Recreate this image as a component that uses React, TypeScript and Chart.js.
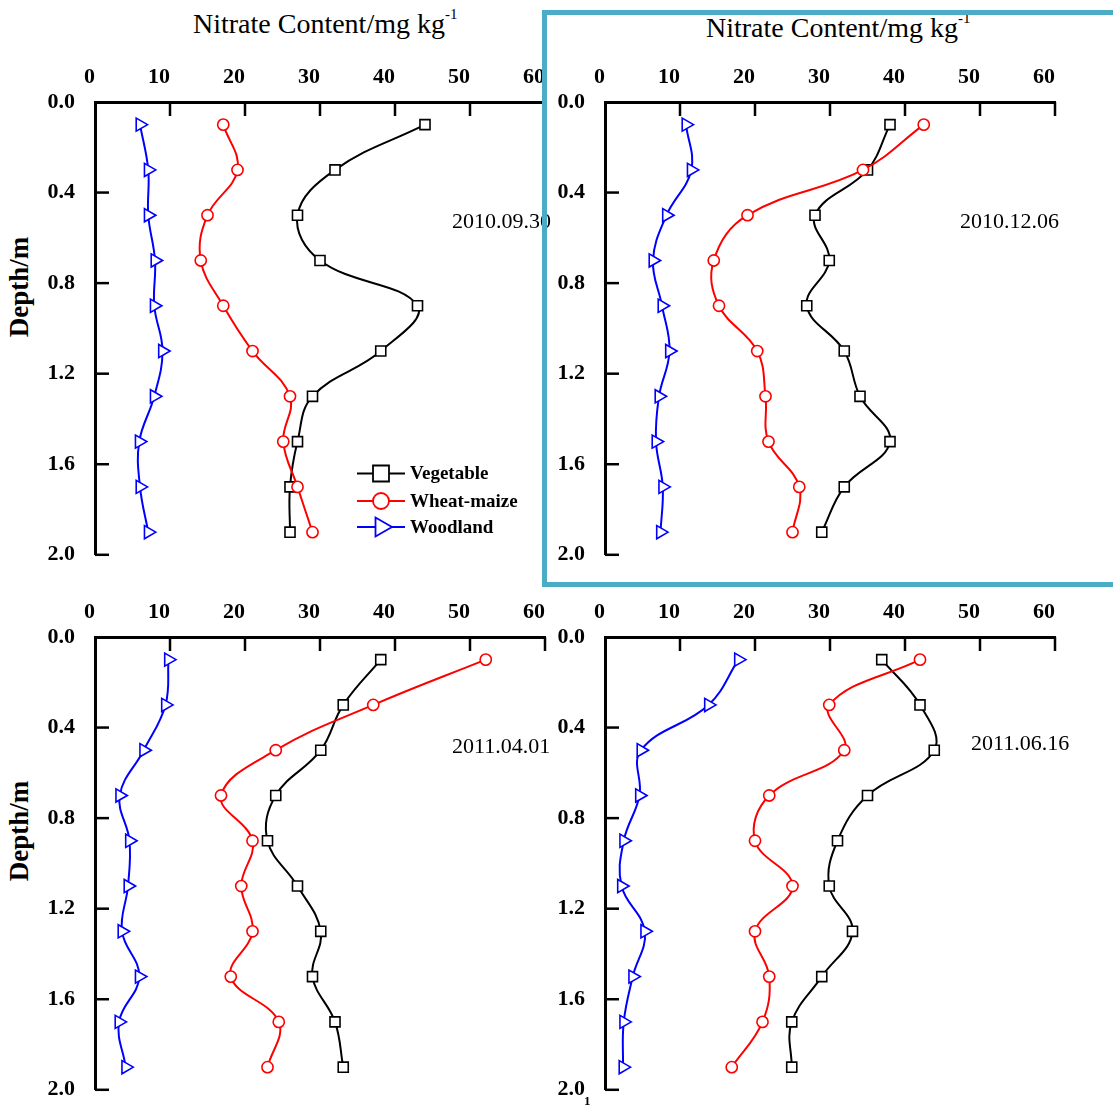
import React, { useEffect, useRef } from 'react';
import { Chart, registerables } from 'chart.js';
import { drawPoint } from 'chart.js/helpers';

Chart.register(...registerables);

// ---------------- data ----------------
const DEPTHS = [0.1, 0.3, 0.5, 0.7, 0.9, 1.1, 1.3, 1.5, 1.7, 1.9];
const X_TICKS = [0, 10, 20, 30, 40, 50, 60];
const Y_TICKS = [0, 0.4, 0.8, 1.2, 1.6, 2.0];
const SERIES = ['Vegetable', 'Wheat-maize', 'Woodland'];
const DATES = ['2010.09.30', '2010.12.06', '2011.04.01', '2011.06.16'];
const X_TITLE = 'Nitrate Content/mg kg';
const X_TITLE_SUP = '-1';
const Y_TITLE = 'Depth/m';

const veg20100930 = [44.0, 32.0, 27.0, 30.0, 43.0, 38.1, 29.0, 27.0, 26.0, 26.0];
const wheat20100930 = [17.1, 19.0, 15.0, 14.1, 17.1, 21.0, 26.0, 25.1, 27.0, 29.0];
const wood20100930 = [6.0, 7.1, 7.1, 8.0, 7.9, 9.0, 7.9, 5.9, 6.0, 7.1];

const veg20101206 = [38.0, 35.0, 28.0, 29.9, 26.9, 31.9, 34.0, 38.0, 31.9, 28.9];
const wheat20101206 = [42.5, 34.4, 19.0, 14.5, 15.2, 20.3, 21.4, 21.8, 25.9, 25.0];
const wood20101206 = [10.8, 11.5, 8.2, 6.4, 7.6, 8.6, 7.2, 6.8, 7.7, 7.4];

const veg20110401 = [38.1, 33.1, 30.1, 24.1, 23.0, 27.0, 30.1, 29.0, 32.0, 33.1];
const wheat20110401 = [52.1, 37.1, 24.1, 16.8, 21.0, 19.5, 21.0, 18.1, 24.5, 23.0];
const wood20110401 = [9.8, 9.4, 6.5, 3.3, 4.6, 4.4, 3.6, 5.9, 3.2, 4.1];

const veg20110616 = [36.9, 42.0, 43.9, 35.0, 31.0, 29.9, 33.0, 28.9, 24.9, 24.9];
const wheat20110616 = [42.0, 29.9, 31.9, 21.9, 20.0, 25.0, 20.0, 21.9, 21.0, 16.9];
const wood20110616 = [17.8, 13.8, 4.8, 4.6, 2.5, 2.2, 5.3, 3.7, 2.5, 2.4];

const PANEL_VALUES = [
  [veg20100930, wheat20100930, wood20100930],
  [veg20101206, wheat20101206, wood20101206],
  [veg20110401, wheat20110401, wood20110401],
  [veg20110616, wheat20110616, wood20110616],
];

// ---------------- styles ----------------
const FONT = "'Liberation Serif', 'Times New Roman', serif";
const STYLES = [
  { color: '#000000', pointStyle: 'rect', radius: 7.1, rotation: 0, legendRadius: 11.3, order: 1 },
  { color: '#ff0000', pointStyle: 'circle', radius: 5.6, rotation: 0, legendRadius: 8, order: 0 },
  { color: '#0000ff', pointStyle: 'triangle', radius: 7.6, rotation: 90, legendRadius: 11, order: 2 },
];

const Y_AXIS_W = 95;
const X_AXIS_H = 60;
const PLOT_W = 451;
const PLOT_H = 451;
const PAD_R = 10;
const PAD_B = 0;
const LABEL_OVERFLOW = 35;
const CANVAS_W = Y_AXIS_W + PLOT_W + PAD_R;
const CANVAS_H = X_AXIS_H + PLOT_H + PAD_B + LABEL_OVERFLOW;

const PANEL_POS = [
  { left: 0, top: 42 },
  { left: 510, top: 42 },
  { left: 0, top: 577 },
  { left: 510, top: 577 },
];

const insideTicks = {
  id: 'insideTicks',
  beforeDatasetsDraw(chart: any) {
    const { ctx, chartArea, scales } = chart;
    const x = scales.x;
    const y = scales.y;
    ctx.save();
    ctx.strokeStyle = '#000';
    ctx.lineWidth = 2.5;
    x.ticks.forEach((t: any) => {
      if (t.value === 0) return;
      const px = x.getPixelForValue(t.value);
      ctx.beginPath();
      ctx.moveTo(px, chartArea.top);
      ctx.lineTo(px, chartArea.top + 14);
      ctx.stroke();
    });
    y.ticks.forEach((t: any) => {
      if (t.value === 0) return;
      const py = y.getPixelForValue(t.value);
      ctx.beginPath();
      ctx.moveTo(chartArea.left, py);
      ctx.lineTo(chartArea.left + 14, py);
      ctx.stroke();
    });
    ctx.restore();
  },
};

const LEGEND_ROWS_Y = [431.5, 459, 485];
const legendPlugin = {
  id: 'innerLegend',
  afterDraw(chart: any) {
    const { ctx } = chart;
    ctx.save();
    chart.data.datasets.forEach((ds: any, i: number) => {
      const st = STYLES[i];
      const cy = LEGEND_ROWS_Y[i];
      ctx.strokeStyle = st.color;
      ctx.lineWidth = 2;
      ctx.beginPath();
      ctx.moveTo(357, cy);
      ctx.lineTo(405, cy);
      ctx.stroke();
      ctx.fillStyle = '#ffffff';
      ctx.strokeStyle = st.color;
      ctx.lineWidth = 1.8;
      drawPoint(ctx, { pointStyle: st.pointStyle, radius: st.legendRadius, rotation: st.rotation, borderWidth: 1.8 } as any, 381, cy);
      ctx.fillStyle = '#000';
      ctx.font = `bold 19px ${FONT}`;
      ctx.textBaseline = 'middle';
      ctx.textAlign = 'left';
      ctx.fillText(ds.label, 410, cy + 1);
    });
    ctx.restore();
  },
};

function Panel({ index }: { index: number }) {
  const ref = useRef<HTMLCanvasElement | null>(null);
  useEffect(() => {
    if (!ref.current) return;
    const values = PANEL_VALUES[index];
    const tickFont = { family: FONT, size: 22, weight: 'bold' as const };
    const chart = new Chart(ref.current, {
      type: 'scatter',
      data: {
        datasets: SERIES.map((name, i) => ({
          label: name,
          data: DEPTHS.map((d, j) => ({ x: values[i][j], y: d })),
          showLine: true,
          borderColor: STYLES[i].color,
          borderWidth: 2,
          tension: 0.4,
          pointStyle: STYLES[i].pointStyle as any,
          pointRadius: STYLES[i].radius,
          pointRotation: STYLES[i].rotation,
          pointBorderColor: STYLES[i].color,
          pointBackgroundColor: '#ffffff',
          pointBorderWidth: 1.6,
          order: STYLES[i].order,
        })),
      },
      options: {
        responsive: false,
        animation: false,
        events: [],
        layout: { padding: { left: 0, top: 0, right: PAD_R, bottom: PAD_B } },
        plugins: { legend: { display: false }, tooltip: { enabled: false } },
        scales: {
          x: {
            type: 'linear',
            position: 'top',
            min: 0,
            max: 60,
            afterBuildTicks: (s: any) => {
              s.ticks = X_TICKS.map((v) => ({ value: v }));
            },
            afterFit: (s: any) => {
              s.height = X_AXIS_H;
            },
            grid: { display: false, drawTicks: false },
            border: { display: true, color: '#000', width: 3 },
            ticks: {
              align: 'end',
              padding: 11,
              color: '#000',
              font: tickFont,
              maxRotation: 0,
              callback: (v: any) => String(v),
            },
          },
          y: {
            type: 'linear',
            reverse: true,
            min: 0,
            max: 2,
            afterBuildTicks: (s: any) => {
              s.ticks = Y_TICKS.map((v) => ({ value: v }));
            },
            afterFit: (s: any) => {
              s.width = Y_AXIS_W;
            },
            grid: { display: false, drawTicks: false },
            border: { display: true, color: '#000', width: 3 },
            ticks: {
              padding: 20,
              color: '#000',
              font: tickFont,
              callback: (v: any) => Number(v).toFixed(1),
            },
          },
        },
      } as any,
      plugins: index === 0 ? [insideTicks, legendPlugin] : [insideTicks],
    });
    return () => chart.destroy();
  }, [index]);
  const pos = PANEL_POS[index];
  return (
    <canvas
      ref={ref}
      width={CANVAS_W}
      height={CANVAS_H}
      style={{ position: 'absolute', left: pos.left, top: pos.top, width: CANVAS_W, height: CANVAS_H }}
    />
  );
}

const textBase: React.CSSProperties = {
  position: 'absolute',
  fontFamily: FONT,
  color: '#000',
  lineHeight: 1,
  whiteSpace: 'nowrap',
};

const DATE_POS = [
  { left: 452, top: 210 },
  { left: 960, top: 210 },
  { left: 452, top: 734.6 },
  { left: 971, top: 731.6 },
];

function XTitle({ left, top }: { left: number; top: number }) {
  return (
    <div style={{ ...textBase, left, top, fontSize: 28 }}>
      {X_TITLE}
      <span style={{ fontSize: 15, position: 'relative', top: -14 }}>{X_TITLE_SUP}</span>
    </div>
  );
}

function YTitle({ cx, cy }: { cx: number; cy: number }) {
  return (
    <div
      style={{
        ...textBase,
        left: cx,
        top: cy,
        fontSize: 27,
        fontWeight: 'bold',
        transform: 'translate(-50%, -50%) rotate(-90deg)',
      }}
    >
      {Y_TITLE}
    </div>
  );
}

export default function App() {
  return (
    <div
      style={{
        position: 'absolute',
        left: 0,
        top: 0,
        width: 1113,
        height: 1108,
        overflow: 'hidden',
        background: '#ffffff',
      }}
    >
      <XTitle left={193} top={9.5} />
      <XTitle left={706} top={13.5} />
      <YTitle cx={19} cy={287} />
      <YTitle cx={19} cy={831} />
      {[0, 1, 2, 3].map((i) => (
        <Panel key={i} index={i} />
      ))}
      {DATES.map((d, i) => (
        <div key={d} style={{ ...textBase, left: DATE_POS[i].left, top: DATE_POS[i].top, fontSize: 22 }}>
          {d}
        </div>
      ))}
      <div style={{ ...textBase, left: 584, top: 1094, fontSize: 13, fontWeight: 'bold' }}>1</div>
      <div
        style={{
          position: 'absolute',
          left: 542,
          top: 10,
          width: 700,
          height: 577,
          boxSizing: 'border-box',
          border: '5px solid #4BACC6',
        }}
      />
    </div>
  );
}
